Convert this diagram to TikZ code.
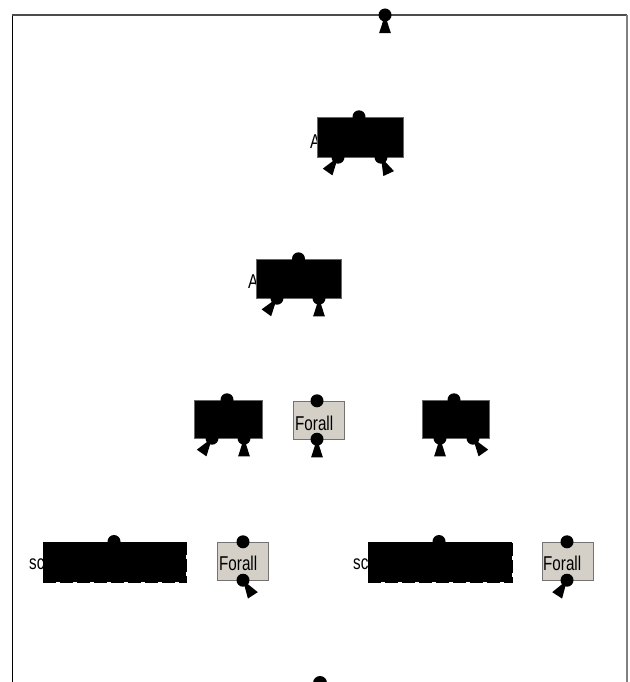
\documentclass[tikz,border=0pt]{standalone}
\usepackage{fontspec}
\setmainfont{Liberation Sans}
\definecolor{panel}{HTML}{D4D0C8}
\tikzstyle{op-box} = [draw=black!60, fill=black, rectangle, inner sep=0pt]
\tikzstyle{forall-box} = [draw=black!55, fill=panel, rectangle, inner sep=0pt]
\tikzstyle{seq-box} = [draw=black, fill=black, rectangle, inner sep=0pt,
    line width=1pt, dash pattern=on 13pt off 4pt]
\tikzstyle{name-text} = [inner sep=0pt, anchor=base west,
    font=\fontsize{20}{20}\selectfont]
\newcommand{\narrow}[1]{\scalebox{0.76}[1]{#1}}
\tikzset{pics/port/.style={code={%
    \fill (0,0) circle (6.5);
    \fill (0,0) -- (#1+18:19) -- (#1-18:19) -- cycle;}}}

\begin{document}
\begin{tikzpicture}[x=1pt, y=-1pt]
\clip (0,0) rectangle (629,682);
\useasboundingbox (0,0) rectangle (629,682);
% frame
\draw[black, line width=1.2pt] (12.5,15) -- (12.5,682);
\draw[black!70, line width=1.2pt] (12,15) -- (627,15);
\draw[gray, line width=2pt] (626.5,15) -- (626.5,682);
\pic at (385,15) {port=90};
% names, partly hidden by the boxes
\node[name-text] (n1) at (310,148) {\narrow{A}};
\node[name-text] (n2) at (248,288) {\narrow{A}};
\node[name-text] (n3) at (29,569) {\narrow{sc}};
\node[name-text] (n4) at (353,569) {\narrow{sc}};
% boxes
\node[op-box, minimum width=86, minimum height=40] (apply1) at (360,137) {};
\node[op-box, minimum width=85, minimum height=39] (apply2) at (298.5,278.5) {};
\node[op-box, minimum width=68, minimum height=38] (op3) at (228,419) {};
\node[forall-box, minimum width=51, minimum height=38] (fa1) at (318.5,420) {};
\node[op-box, minimum width=67, minimum height=38] (op4) at (455.5,419) {};
\node[seq-box, minimum width=143, minimum height=40] (seq1) at (114.5,562) {};
\node[forall-box, minimum width=51, minimum height=38] (fa2) at (242.5,561) {};
\node[seq-box, minimum width=144, minimum height=40] (seq2) at (440,562) {};
\node[forall-box, minimum width=51, minimum height=38] (fa3) at (567.5,561) {};
\node[name-text] (t1) at (295,430) {\narrow{Forall}};
\node[name-text] (t2) at (219,570) {\narrow{Forall}};
\node[name-text] (t3) at (543,570) {\narrow{Forall}};
% top pins
\foreach \b/\dx in {apply1/-1, apply2/0, op3/-1, fa1/-1.5, op4/-1.5, seq1/-0.5, fa2/0.5, seq2/-1, fa3/-0.5}
    \fill ([xshift=\dx pt]\b.north) circle (6.5);
% bottom ports
\pic at ([xshift=-22pt]apply1.south) {port=125};
\pic at ([xshift=21pt]apply1.south) {port=65};
\pic at ([xshift=-21.5pt]apply2.south) {port=126};
\pic at ([xshift=20.5pt]apply2.south) {port=90};
\pic at ([xshift=-16pt]op3.south) {port=125};
\pic at ([xshift=16pt]op3.south) {port=90};
\pic at ([xshift=-1.5pt]fa1.south) {port=90};
\pic at ([xshift=-15.5pt]op4.south) {port=90};
\pic at ([xshift=17.5pt]op4.south) {port=55};
\pic at ([xshift=0.5pt]fa2.south) {port=57};
\pic at ([xshift=-0.5pt]fa3.south) {port=123};
\fill (320,683) circle (7);
\end{tikzpicture}
\end{document}
